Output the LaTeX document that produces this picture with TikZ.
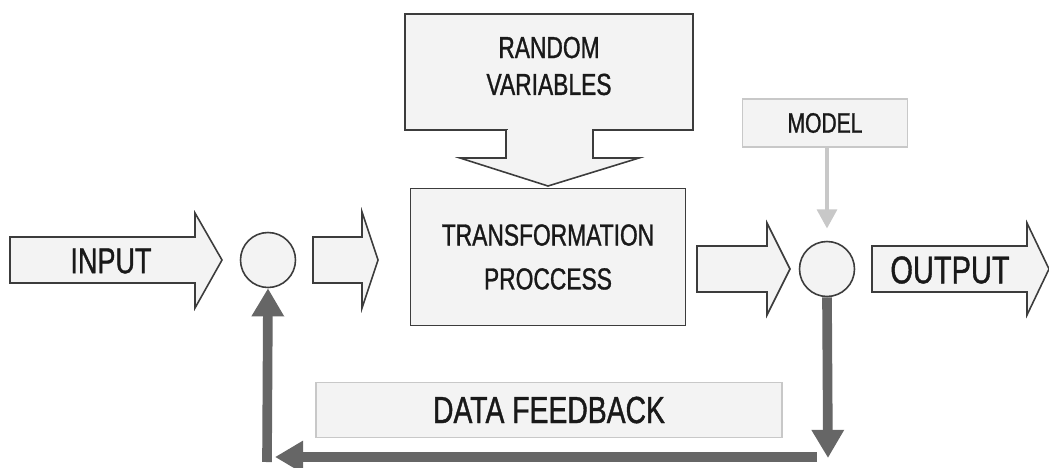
\documentclass[tikz,border=0pt]{standalone}
\usepackage{fontspec}
\setmainfont{Liberation Sans}[FakeStretch=0.75,FakeBold=1]
\definecolor{boxfill}{HTML}{F3F3F3}
\definecolor{boxline}{HTML}{3C3C3C}
\definecolor{feedgray}{HTML}{666666}
\definecolor{modelgray}{HTML}{C8C8C8}
\usetikzlibrary{arrows.meta}
\begin{document}
\begin{tikzpicture}[x=0.02cm,y=-0.02cm,
  block/.style={draw=boxline,fill=boxfill,line width=0.9pt},
  lightbox/.style={draw=modelgray,fill=boxfill,line width=0.6pt},
  lbl/.style={text=black!90,align=center,font=\fontsize{17.3}{21}\selectfont},
  feedback/.style={draw=feedgray,line width=5.5pt,-{Triangle[length=16pt,width=17.5pt]}}]
\useasboundingbox (0,0) rectangle (1049,467);

% block arrows
\draw[block] (10,237) -- (195,237) -- (195,213) -- (222,260) -- (195,308) -- (195,283) -- (10,283) -- cycle;
\node[lbl,font=\fontsize{20.5}{24}\selectfont] (input) at (111,261) {INPUT};

\draw[block] (313,237) -- (362,237) -- (362,212) -- (378,260) -- (362,308) -- (362,283) -- (313,283) -- cycle;

\draw[block] (405,14) rectangle (693,130);
\draw[block] (506,130) -- (506,158) -- (460,158) -- (548,186) -- (639,158) -- (593,158) -- (593,130);
\fill[boxfill] (507.5,129) rectangle (591.5,159);
\node[lbl] (random) at (549,66) {RANDOM\\VARIABLES};

\draw[block] (697,246) -- (767,246) -- (767,223) -- (790,269) -- (767,315) -- (767,292) -- (697,292) -- cycle;

\draw[block] (872,246) -- (1027,246) -- (1027,223) -- (1049,269) -- (1027,315) -- (1027,292) -- (872,292) -- cycle;
\node[lbl,font=\fontsize{22}{26}\selectfont] (output) at (950,270) {OUTPUT};

% process and summing points
\node[block,minimum width=275*0.02cm,minimum height=137*0.02cm,lbl] (proc) at (548,257) {TRANSFORMATION\\[4pt]PROCCESS};
\node[block,circle,minimum size=55*0.02cm,inner sep=0pt] (inc) at (268,260) {};
\node[block,circle,minimum size=55*0.02cm,inner sep=0pt] (outc) at (827,269) {};

% model and feedback labels
\node[lightbox,lbl,minimum width=165*0.02cm,minimum height=48*0.02cm,font=\fontsize{16}{19}\selectfont] (model) at (825,123) {MODEL};
\node[lightbox,lbl,minimum width=466*0.02cm,minimum height=55*0.02cm,font=\fontsize{21.5}{25}\selectfont] (data) at (549,410) {DATA FEEDBACK};

\draw[draw=modelgray,line width=2.8pt,shorten >=12*0.02cm,-{Triangle[length=11pt,width=11pt]}] (model.south -| outc) -- (outc.north);

% feedback loop
\coordinate (br) at (828,458);
\coordinate (bm) at (817,457);
\coordinate (bl) at (275,457);
\coordinate (lc) at (267,462);
\draw[feedback] (outc.south) -- (br);
\draw[feedback] (bm) -- (bl);
\draw[feedback] (lc) -- (inc.south);
\end{tikzpicture}
\end{document}
